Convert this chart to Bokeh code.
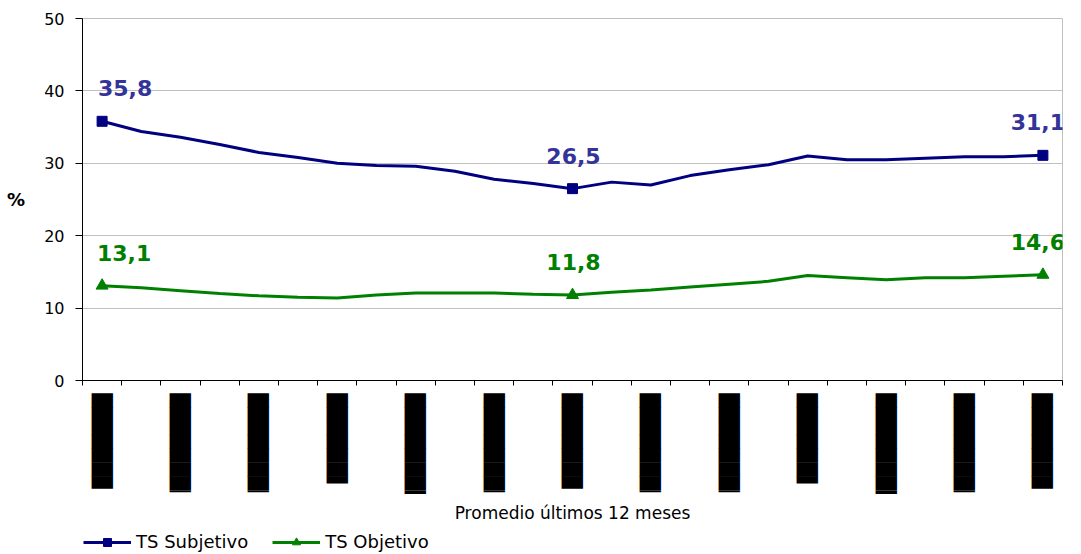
from bokeh.plotting import figure
from bokeh.layouts import column
from bokeh.models import (Range1d, FixedTicker, ColumnDataSource, LabelSet,
                          Legend, LegendItem)
from bokeh.core.properties import value
from bokeh.embed import file_html
from bokeh.resources import INLINE

# ---------------- data ----------------
n_periods = 25
ts_subjetivo = [35.8, 34.4, 33.6, 32.6, 31.5, 30.8, 30.0, 29.7, 29.6, 28.9,
                27.8, 27.2, 26.5, 27.4, 27.0, 28.3, 29.1, 29.8, 31.0, 30.5,
                30.5, 30.7, 30.9, 30.9, 31.1]
ts_objetivo = [13.1, 12.8, 12.4, 12.0, 11.7, 11.5, 11.4, 11.8, 12.1, 12.1,
               12.1, 11.9, 11.8, 12.2, 12.5, 12.9, 13.3, 13.7, 14.5, 14.2,
               13.9, 14.2, 14.2, 14.4, 14.6]
marked_points = [0, 12, 24]
# period labels (they render as solid black boxes in the original)
tick_labels = ["██████▉", "███████▏", "███████▏", "██████▌",
               "███████▎", "███████▏", "██████▉", "███████▏",
               "███████▏", "██████▌", "███████▎", "███████▏",
               "██████▉"]
y_ticks = [0, 10, 20, 30, 40, 50]
series_names = ["TS Subjetivo", "TS Objetivo"]
x_title = "Promedio últimos 12 meses"
y_title = "%"

# ---------------- styles ----------------
NAVY = "#000080"
GREEN = "#008000"
LABEL_BLUE = "#333399"
FONT = "DejaVu Sans"

pos = [2 * i + 1 for i in range(n_periods)]          # category centres
bounds = [2 * i for i in range(n_periods + 1)]       # category boundaries
label_pos = pos[::2]

p = figure(frame_width=980, frame_height=362,
           x_range=Range1d(0, 2 * n_periods), y_range=Range1d(0, 50),
           output_backend="svg", toolbar_location=None,
           min_border_left=82, min_border_top=18, min_border_right=14,
           min_border_bottom=0, background_fill_color="white",
           border_fill_color="white")
p.outline_line_color = "#c0c0c0"
p.outline_line_width = 1

# grid
p.xgrid.visible = False
p.ygrid.ticker = FixedTicker(ticks=y_ticks)
p.ygrid.grid_line_color = "#c0c0c0"
p.ygrid.grid_line_width = 1

# y axis
ya = p.yaxis[0]
ya.ticker = FixedTicker(ticks=y_ticks)
ya.major_tick_out = 7
ya.major_tick_in = 0
ya.minor_tick_out = 0
ya.minor_tick_in = 0
ya.axis_line_color = "black"
ya.major_tick_line_color = "black"
ya.major_label_text_font = FONT
ya.major_label_text_font_size = "16px"
ya.major_label_text_color = "black"
ya.major_label_standoff = 11
ya.axis_label = y_title
ya.axis_label_orientation = "horizontal"
ya.axis_label_text_font = FONT
ya.axis_label_text_font_style = "bold"
ya.axis_label_text_font_size = "18px"
ya.axis_label_text_color = "black"
ya.axis_label_standoff = 16

# x axis
xa = p.xaxis[0]
xa.ticker = FixedTicker(ticks=label_pos, minor_ticks=bounds)
xa.major_tick_out = 0
xa.major_tick_in = 0
xa.minor_tick_out = 5
xa.minor_tick_in = 0
xa.minor_tick_line_color = "black"
xa.axis_line_color = "black"
xa.major_label_overrides = {k: v for k, v in zip(label_pos, tick_labels)}
xa.major_label_orientation = "vertical"
xa.major_label_text_font = FONT
xa.major_label_text_font_size = "18px"
xa.major_label_text_color = "black"
xa.major_label_standoff = 8
xa.axis_label = x_title
xa.axis_label_text_font = FONT
xa.axis_label_text_font_style = "normal"
xa.axis_label_text_font_size = "17px"
xa.axis_label_text_color = "black"
xa.axis_label_standoff = -4

# series
src = ColumnDataSource(dict(x=pos, subj=ts_subjetivo, obj=ts_objetivo))
mk = ColumnDataSource(dict(
    x=[pos[i] for i in marked_points],
    subj=[ts_subjetivo[i] for i in marked_points],
    obj=[ts_objetivo[i] for i in marked_points],
    subj_txt=[f"{ts_subjetivo[i]:.1f}".replace(".", ",") for i in marked_points],
    obj_txt=[f"{ts_objetivo[i]:.1f}".replace(".", ",") for i in marked_points],
    xoff_s=[23, 1, -5],
    xoff_o=[22, 1, -5],
))

p.line("x", "subj", source=src, line_color=NAVY, line_width=3)
p.scatter("x", "subj", source=mk, marker="square", size=10,
          fill_color=NAVY, line_color=NAVY)
p.line("x", "obj", source=src, line_color=GREEN, line_width=3)
p.scatter("x", "obj", source=mk, marker="triangle", size=12,
          fill_color=GREEN, line_color=GREEN)

p.add_layout(LabelSet(x="x", y="subj", text="subj_txt", source=mk,
                      x_offset="xoff_s", y_offset=25, text_align="center",
                      text_baseline="alphabetic", text_font=value(FONT),
                      text_font_style="bold", text_font_size="22px",
                      text_color=LABEL_BLUE))
p.add_layout(LabelSet(x="x", y="obj", text="obj_txt", source=mk,
                      x_offset="xoff_o", y_offset=25, text_align="center",
                      text_baseline="alphabetic", text_font=value(FONT),
                      text_font_style="bold", text_font_size="22px",
                      text_color=GREEN))

# ---------------- legend strip below the chart ----------------
leg = figure(width=1076, height=28, x_range=Range1d(0, 1), y_range=Range1d(0, 1),
             output_backend="svg", toolbar_location=None,
             x_axis_location=None, y_axis_location=None,
             min_border=0, outline_line_color=None,
             background_fill_color="white", border_fill_color="white")
leg.xgrid.visible = False
leg.ygrid.visible = False
# key renderers: a single point kept outside the strip's visible range
key_src = ColumnDataSource(dict(x=[5], y=[5]))
k1 = leg.line("x", "y", source=key_src, line_color=NAVY, line_width=3)
k1m = leg.scatter("x", "y", source=key_src, marker="square", size=9,
                  fill_color=NAVY, line_color=NAVY)
k2 = leg.line("x", "y", source=key_src, line_color=GREEN, line_width=3)
k2m = leg.scatter("x", "y", source=key_src, marker="triangle", size=11,
                  fill_color=GREEN, line_color=GREEN)
legend = Legend(items=[LegendItem(label=series_names[0], renderers=[k1, k1m]),
                       LegendItem(label=series_names[1], renderers=[k2, k2m])],
                orientation="horizontal", location=(1, 2),
                label_text_font=FONT, label_text_font_size="18px",
                label_text_color="black", glyph_width=48, glyph_height=20,
                label_standoff=5, spacing=24, padding=2, margin=0,
                border_line_color=None, background_fill_alpha=0)
leg.add_layout(legend, "center")

layout = column(p, leg, spacing=0)
open("out.html", "w").write(file_html(layout, INLINE))
